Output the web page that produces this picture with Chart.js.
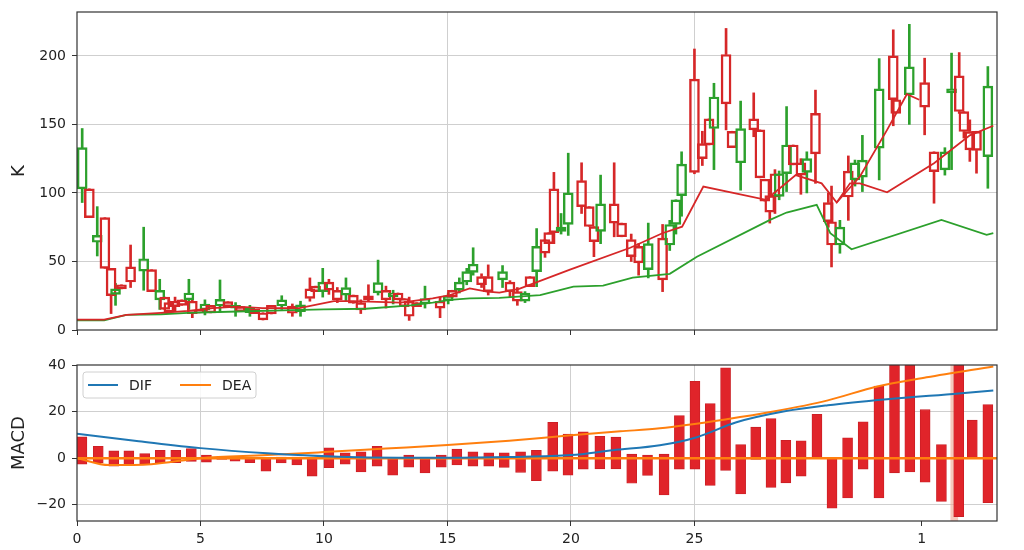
<!DOCTYPE html>
<html>
<head>
<meta charset="utf-8">
<script src="https://cdn.jsdelivr.net/npm/chart.js@4.4.0/dist/chart.umd.min.js"></script>
<style>
  html, body { margin: 0; padding: 0; background: #fff; }
  #wrap { position: relative; width: 1024px; height: 550px; }
  canvas { position: absolute; left: 0; }
  #priceChart { top: 0; }
  #macdChart { top: 340px; }
</style>
</head>
<body>
<div id="wrap">
  <canvas id="priceChart" width="1024" height="340"></canvas>
  <canvas id="macdChart" width="1024" height="210"></canvas>
</div>
<script>
// candles (x position, OHLC)
const candleX = [
  0.21,0.50,0.82,1.13,1.38,1.56,1.80,2.17,2.70,3.02,
  3.35,3.55,3.72,3.97,4.24,4.53,4.67,4.94,5.18,5.41,
  5.79,6.11,6.42,6.61,7.00,7.20,7.53,7.87,8.29,8.72,
  9.05,9.43,9.66,9.95,10.20,10.54,10.89,11.19,11.49,11.80,
  12.19,12.51,12.80,13.00,13.25,13.45,13.75,14.09,14.70,15.03,
  15.20,15.48,15.78,16.04,16.38,16.65,17.23,17.53,17.83,18.14,
  18.34,18.61,18.95,19.10,19.31,19.60,19.89,20.43,20.74,20.93,
  21.20,21.75,22.05,22.44,22.74,23.13,23.71,24.00,24.25,24.48,
  25.00,25.32,25.59,25.79,26.28,26.52,26.87,27.40,27.65,27.85,
  28.05,28.26,28.43,28.73,29.00,29.31,29.55,29.90,30.42,30.55,
  30.89,31.23,31.50,31.80,32.48,33.05,33.15,33.70,34.32,34.70,
  35.14,35.41,35.72,35.91,36.15,36.42,36.88
];
const candleOpen = [
  103,103,64,82,45,26,33,46,43,44,
  22,24,20,21,22,22,21,14.5,14.6,18,
  17.5,20.7,16,17,12.6,15,12.6,18,17.5,17.5,
  13.4,30,32,28,35,29,25.5,25.5,20,25,
  27,29,24.3,27,23,21,20,19,21,21.4,
  29,29,35,42,39,39,36.5,35,28,21,
  39,42.6,66,71,103,72,77,109,90,75.5,
  72,92,78,66,61,44,67,62,77,98,
  183,136,154,147,201,145,122,154,146,110,
  98,114,97.5,114,135,122,115,158,93,79,
  62,116,109.5,111.5,132.6,200,168,171.6,180.5,130,
  116.8,173,185.4,159.4,144.8,145,126.5
];
const candleClose = [
  133,82,69,45,25,30,30,35,52,28,
  29,15,13,17,18,27,12,12.5,19,12.5,
  22.4,17,18,13.4,15.8,12,7.3,11.7,22,12.2,
  18.3,23,28,35,29,22,31,19.5,14.6,22,
  34.6,22,27,22,17,10,17,23,16,25,
  24,35,42.6,48,33,28,42.6,28,21,27,
  31.6,61,56,63,71,75,100,90,75.5,64.5,
  92,78,68,53.5,49,63,36.5,77,95,121,
  115,125,135,170,165,133,147,146,111,94,
  86,97,114,135,120.5,113,125,128.5,79,62,
  75,97,122,124,176,168,158,192,162.6,115.6,
  130,176,159.4,144.8,131.4,131,178
];
const candleHigh = [
  147,103,90,82,45,34,33,62,75,44,
  37,24,22,24,22,37,23,14.5,22,18,
  36.5,20.7,20,17,18,15,12.6,18,25,19,
  21,38,32,45,37,31,38,25.5,22,33,
  51,32,29,27,23,24,20,32,24,27,
  29,38,45,60,41,47.5,47,36,31,28,
  39,74,66,71,115,85,129,122,90,75.5,
  113,122,78,70,63,78,77,80,95,130,
  205,145,154,180,220,145,167,173,146,110,
  100,117,116,163,135,125,130,175,100,105,
  80,127,124,142,198,219,168,223,198.3,130,
  133,202,202.4,159.4,153.3,145,192.2
];
const candleLow = [
  93,82,54,45,12,18,30,31,29,28,
  15,15,12,14,18,15,9,12.5,11,12.5,
  13,17,10,13.4,10,12,7.3,11.7,15,10,
  10,21,28,24,26,20,21,19.5,12,21,
  25.5,16,19,22,17,7,17,16,9,19,
  24,27,33,40,31,25.5,31,24,18,20,
  31.6,31.6,53,63,63,70,69,85,75.5,53.5,
  63,68,68,50,40,38,28,58,70,83,
  114,120,135,117,146,133,102,141,111,94,
  78,85,95,101,120.5,99,100,107,75,46,
  56,80,105,101,109.5,149,158,150,142.4,92.5,
  113,117,158,140,123,114.4,103.4
];

// moving averages on the price panel
const maRedX = [0,1.1,2,3.4,4.5,5.5,6.5,7.5,8.7,9.0,10.4,11.2,13.1,14.4,15.1,15.9,16.6,17.1,17.9,19.96,22.4,23.7,24.5,25.36,27.9,29.1,30.15,30.76,31.3,31.7,32.8,34.7,36.15,37.1];
const maRedY = [7.5,7.5,11,12.5,14,16,17,16,16,16,21,21,20,23,25.5,30.4,28,27.3,30,44,60,70.6,75.4,104.6,95,113,107,93,107,107,100.5,121.7,142,149];
const maRedShortX = [30.76,31.7,32.8,33.6,34.1];
const maRedShortY = [93,112,146,172,168];
const maGreenX = [0,1.1,2,3.4,4.5,6.5,8.7,10,11.7,13.5,14.4,15.1,15.9,17.1,18.75,20.1,21.3,22.5,24,25.1,28.06,28.73,29.95,30.5,31.36,35,36.83,37.1];
const maGreenY = [7,7,11,11.5,12.5,13.5,14.5,15,15.5,18,20,22,23,23.5,25.5,31.6,32.4,38.2,41,53.5,80.3,85.7,91.3,70.6,58.9,80.3,69.4,70.6];

// MACD panel
const macdX = [
  0.20,0.86,1.49,2.10,2.74,3.37,4.00,4.63,5.24,5.86,
  6.40,7.00,7.65,8.27,8.90,9.52,10.20,10.86,11.50,12.15,
  12.78,13.43,14.09,14.75,15.38,16.03,16.67,17.30,17.96,18.60,
  19.26,19.88,20.50,21.17,21.82,22.46,23.10,23.77,24.39,25.02,
  25.64,26.26,26.87,27.48,28.10,28.70,29.32,29.96,30.57,31.20,
  31.83,32.47,33.10,33.72,34.34,35.00,35.70,36.25,36.88
];
const macdLow = [
  -2.6,-2.0,-3.4,-3.0,-2.6,-2.0,-2.0,-1.4,-1.7,-0.5,
  -1.3,-2.0,-5.6,-2.1,-2.9,-7.7,-4.1,-2.6,-5.9,-3.4,
  -7.3,-3.9,-6.4,-3.9,-2.9,-3.4,-3.4,-4.0,-6.1,-9.7,
  -5.6,-7.3,-4.7,-4.6,-4.6,-10.8,-7.4,-15.8,-4.7,-4.7,
  -11.7,-5.3,-15.4,-0.5,-12.6,-10.6,-7.7,0,-21.5,-17.1,
  -4.7,-17.1,-6.3,-5.9,-10.3,-18.6,-25.1,0,-19.1
];
const macdHigh = [
  9.1,5.1,3.1,3.1,2.0,3.4,3.4,4.1,1.3,0.5,
  0.3,0.3,0,0.5,0.5,0,4.4,2.3,2.7,5.1,
  0.3,1.3,0,1.3,3.9,2.7,2.3,2.3,2.7,3.4,
  15.4,10.3,11.3,9.4,9.0,1.7,1.3,1.7,18.3,33.0,
  23.4,38.8,5.8,13.3,17.0,7.7,7.4,18.8,0,8.7,
  15.6,31.0,45,45,20.8,5.8,45,16.3,23.0
];
const difX = [0,2.5,5,7.7,10.6,13,15,17.5,20,21.7,23.6,25.1,26.7,28.6,30.4,32.8,35.7,37.1];
const difY = [10.5,7.3,4.3,2.1,0.6,0.2,0.2,0.5,1.3,3.4,5.5,9,15.4,20,22.7,25.3,27.8,29.1];
const deaX = [0,1.3,3,5,7.7,10,12.5,15,17.5,20,22,23.6,26.3,28.2,30.4,32.4,34.4,37.1];
const deaY = [0,-3,-2.6,0,1.3,2.6,4.1,5.6,7.5,9.8,11.5,12.8,16.7,20,24.8,30.8,34.7,39.4];
const markX = [35.52];

const xTicksTop = [0, 5, 10, 15, 20, 25];
const xTicksBottom = [0, 5, 10, 15, 20, 25, 34.2];
const xTickText = ['0', '5', '10', '15', '20', '25', '1'];
const kTicks = [0, 50, 100, 150, 200];
const macdTicks = [-20, 0, 20, 40];

const X_MAX = 37.25;
const GREEN = '#2ca02c';
const RED = '#d62728';
const GRID = '#cfcfcf';
const NONE = 'rgba(0,0,0,0)';

Chart.defaults.font.family = "'DejaVu Sans', sans-serif";
Chart.defaults.color = '#222';

const pts = (xs, ys) => xs.map((x, i) => ({ x: x, y: ys[i] }));

const frame = {
  id: 'frame',
  afterDraw(chart) {
    const { ctx, chartArea: a } = chart;
    ctx.save();
    ctx.strokeStyle = '#333';
    ctx.lineWidth = 1.2;
    ctx.strokeRect(a.left, a.top, a.right - a.left, a.bottom - a.top);
    ctx.restore();
  }
};

const macdLegend = {
  id: 'macdLegend',
  afterDraw(chart) {
    const ctx = chart.ctx, a = chart.chartArea;
    const bx = a.left + 6, by = a.top + 7, bw = 173, bh = 26;
    ctx.save();
    ctx.fillStyle = 'rgba(255,255,255,0.85)';
    ctx.strokeStyle = '#d0d0d0';
    ctx.lineWidth = 1;
    ctx.beginPath();
    ctx.roundRect(bx, by, bw, bh, 3);
    ctx.fill();
    ctx.stroke();
    const my = by + bh / 2;
    ctx.lineWidth = 2;
    ctx.strokeStyle = '#1f77b4';
    ctx.beginPath(); ctx.moveTo(bx + 5, my); ctx.lineTo(bx + 35, my); ctx.stroke();
    ctx.strokeStyle = '#ff7f0e';
    ctx.beginPath(); ctx.moveTo(bx + 97, my); ctx.lineTo(bx + 128, my); ctx.stroke();
    ctx.fillStyle = '#222';
    ctx.font = "14px 'DejaVu Sans'";
    ctx.textBaseline = 'middle';
    ctx.fillText('DIF', bx + 46, my + 1);
    ctx.fillText('DEA', bx + 139, my + 1);
    ctx.restore();
  }
};

// candle pieces as floating bars
const bodies = candleX.map((x, i) => ({ x: x, y: [Math.min(candleOpen[i], candleClose[i]), Math.max(candleOpen[i], candleClose[i])] }));
const upWicks = candleX.map((x, i) => ({ x: x, y: [Math.max(candleOpen[i], candleClose[i]), candleHigh[i]] }));
const downWicks = candleX.map((x, i) => ({ x: x, y: [candleLow[i], Math.min(candleOpen[i], candleClose[i])] }));
const candleColors = candleX.map((x, i) => candleClose[i] >= candleOpen[i] ? GREEN : RED);

new Chart(document.getElementById('priceChart'), {
  type: 'bar',
  data: {
    datasets: [
      { type: 'line', data: pts(maRedX, maRedY), borderColor: RED, borderWidth: 1.8, pointRadius: 0, tension: 0 },
      { type: 'line', data: pts(maRedShortX, maRedShortY), borderColor: RED, borderWidth: 1.8, pointRadius: 0, tension: 0 },
      { type: 'line', data: pts(maGreenX, maGreenY), borderColor: GREEN, borderWidth: 1.8, pointRadius: 0, tension: 0 },
      { data: bodies, backgroundColor: NONE, borderColor: candleColors, borderWidth: 1.8, borderSkipped: false, barThickness: 10, grouped: false },
      { data: upWicks, backgroundColor: candleColors, borderWidth: 0, barThickness: 2, grouped: false },
      { data: downWicks, backgroundColor: candleColors, borderWidth: 0, barThickness: 2, grouped: false }
    ]
  },
  options: {
    responsive: false,
    animation: false,
    layout: { padding: { left: 0, right: 27, top: 12, bottom: 0 } },
    plugins: { legend: { display: false }, tooltip: { enabled: false } },
    scales: {
      x: {
        type: 'linear', min: 0, max: X_MAX, offset: false,
        afterBuildTicks: s => { s.ticks = xTicksTop.map(v => ({ value: v })); },
        afterFit: s => { s.height = 10; },
        ticks: { color: NONE, autoSkip: false, maxRotation: 0 },
        grid: { offset: false, color: c => (c.tick && (c.tick.value === 15 || c.tick.value === 25)) ? GRID : NONE, tickColor: '#333', tickLength: 5 },
        border: { display: false }
      },
      y: {
        min: 0, max: 232,
        afterBuildTicks: s => { s.ticks = kTicks.map(v => ({ value: v })); },
        afterFit: s => { s.width = 77; s.paddingTop = 0; s.paddingBottom = 0; },
        ticks: { font: { size: 14 }, color: '#222', padding: 6 },
        grid: { color: c => (c.tick && c.tick.value === 0) ? NONE : GRID, tickColor: '#333', tickLength: 5 },
        border: { display: false },
        title: { display: true, text: 'K', font: { size: 18 }, color: '#222', padding: { top: 9, bottom: 0 } }
      }
    }
  },
  plugins: [frame]
});

new Chart(document.getElementById('macdChart'), {
  type: 'bar',
  data: {
    datasets: [
      { type: 'line', data: pts(difX, difY), borderColor: '#1f77b4', borderWidth: 2, pointRadius: 0, cubicInterpolationMode: 'monotone' },
      { type: 'line', data: pts(deaX, deaY), borderColor: '#ff7f0e', borderWidth: 2, pointRadius: 0, cubicInterpolationMode: 'monotone' },
      { type: 'line', data: [{ x: 0, y: 0 }, { x: X_MAX, y: 0 }], borderColor: '#ff7f0e', borderWidth: 2.5, pointRadius: 0 },
      { data: macdX.map((x, i) => ({ x: x, y: [macdLow[i], macdHigh[i]] })), backgroundColor: '#e0242a', borderColor: '#c81e24', borderWidth: 0.8, borderSkipped: false, barThickness: 10, grouped: false },
      { data: markX.map(x => ({ x: x, y: [-27, 40] })), backgroundColor: 'rgba(240,165,145,0.6)', borderWidth: 0, barThickness: 7, grouped: false }
    ]
  },
  options: {
    responsive: false,
    animation: false,
    layout: { padding: { left: 0, right: 27, top: 25, bottom: 0 } },
    plugins: { legend: { display: false }, tooltip: { enabled: false } },
    scales: {
      x: {
        type: 'linear', min: 0, max: X_MAX, offset: false,
        afterBuildTicks: s => { s.ticks = xTicksBottom.map(v => ({ value: v })); },
        afterFit: s => { s.height = 29; },
        ticks: {
          font: { size: 14 }, color: '#222', autoSkip: false, maxRotation: 0, padding: 5,
          callback: v => xTickText[xTicksBottom.indexOf(v)]
        },
        grid: { offset: false, color: c => (c.tick && c.tick.value > 0 && c.tick.value <= 25) ? GRID : NONE, tickColor: '#333', tickLength: 5 },
        border: { display: false }
      },
      y: {
        min: -27, max: 40,
        afterBuildTicks: s => { s.ticks = macdTicks.map(v => ({ value: v })); },
        afterFit: s => { s.width = 77; },
        ticks: { font: { size: 14 }, color: '#222', padding: 6, callback: v => String(v).replace('-', '\u2212') },
        grid: { color: c => (c.tick && c.tick.value === 40) ? NONE : GRID, tickColor: '#333', tickLength: 5 },
        border: { display: false },
        title: { display: true, text: 'MACD', font: { size: 18 }, color: '#222', padding: { top: 9, bottom: 0 } }
      }
    }
  },
  plugins: [frame, macdLegend]
});
</script>
</body>
</html>
